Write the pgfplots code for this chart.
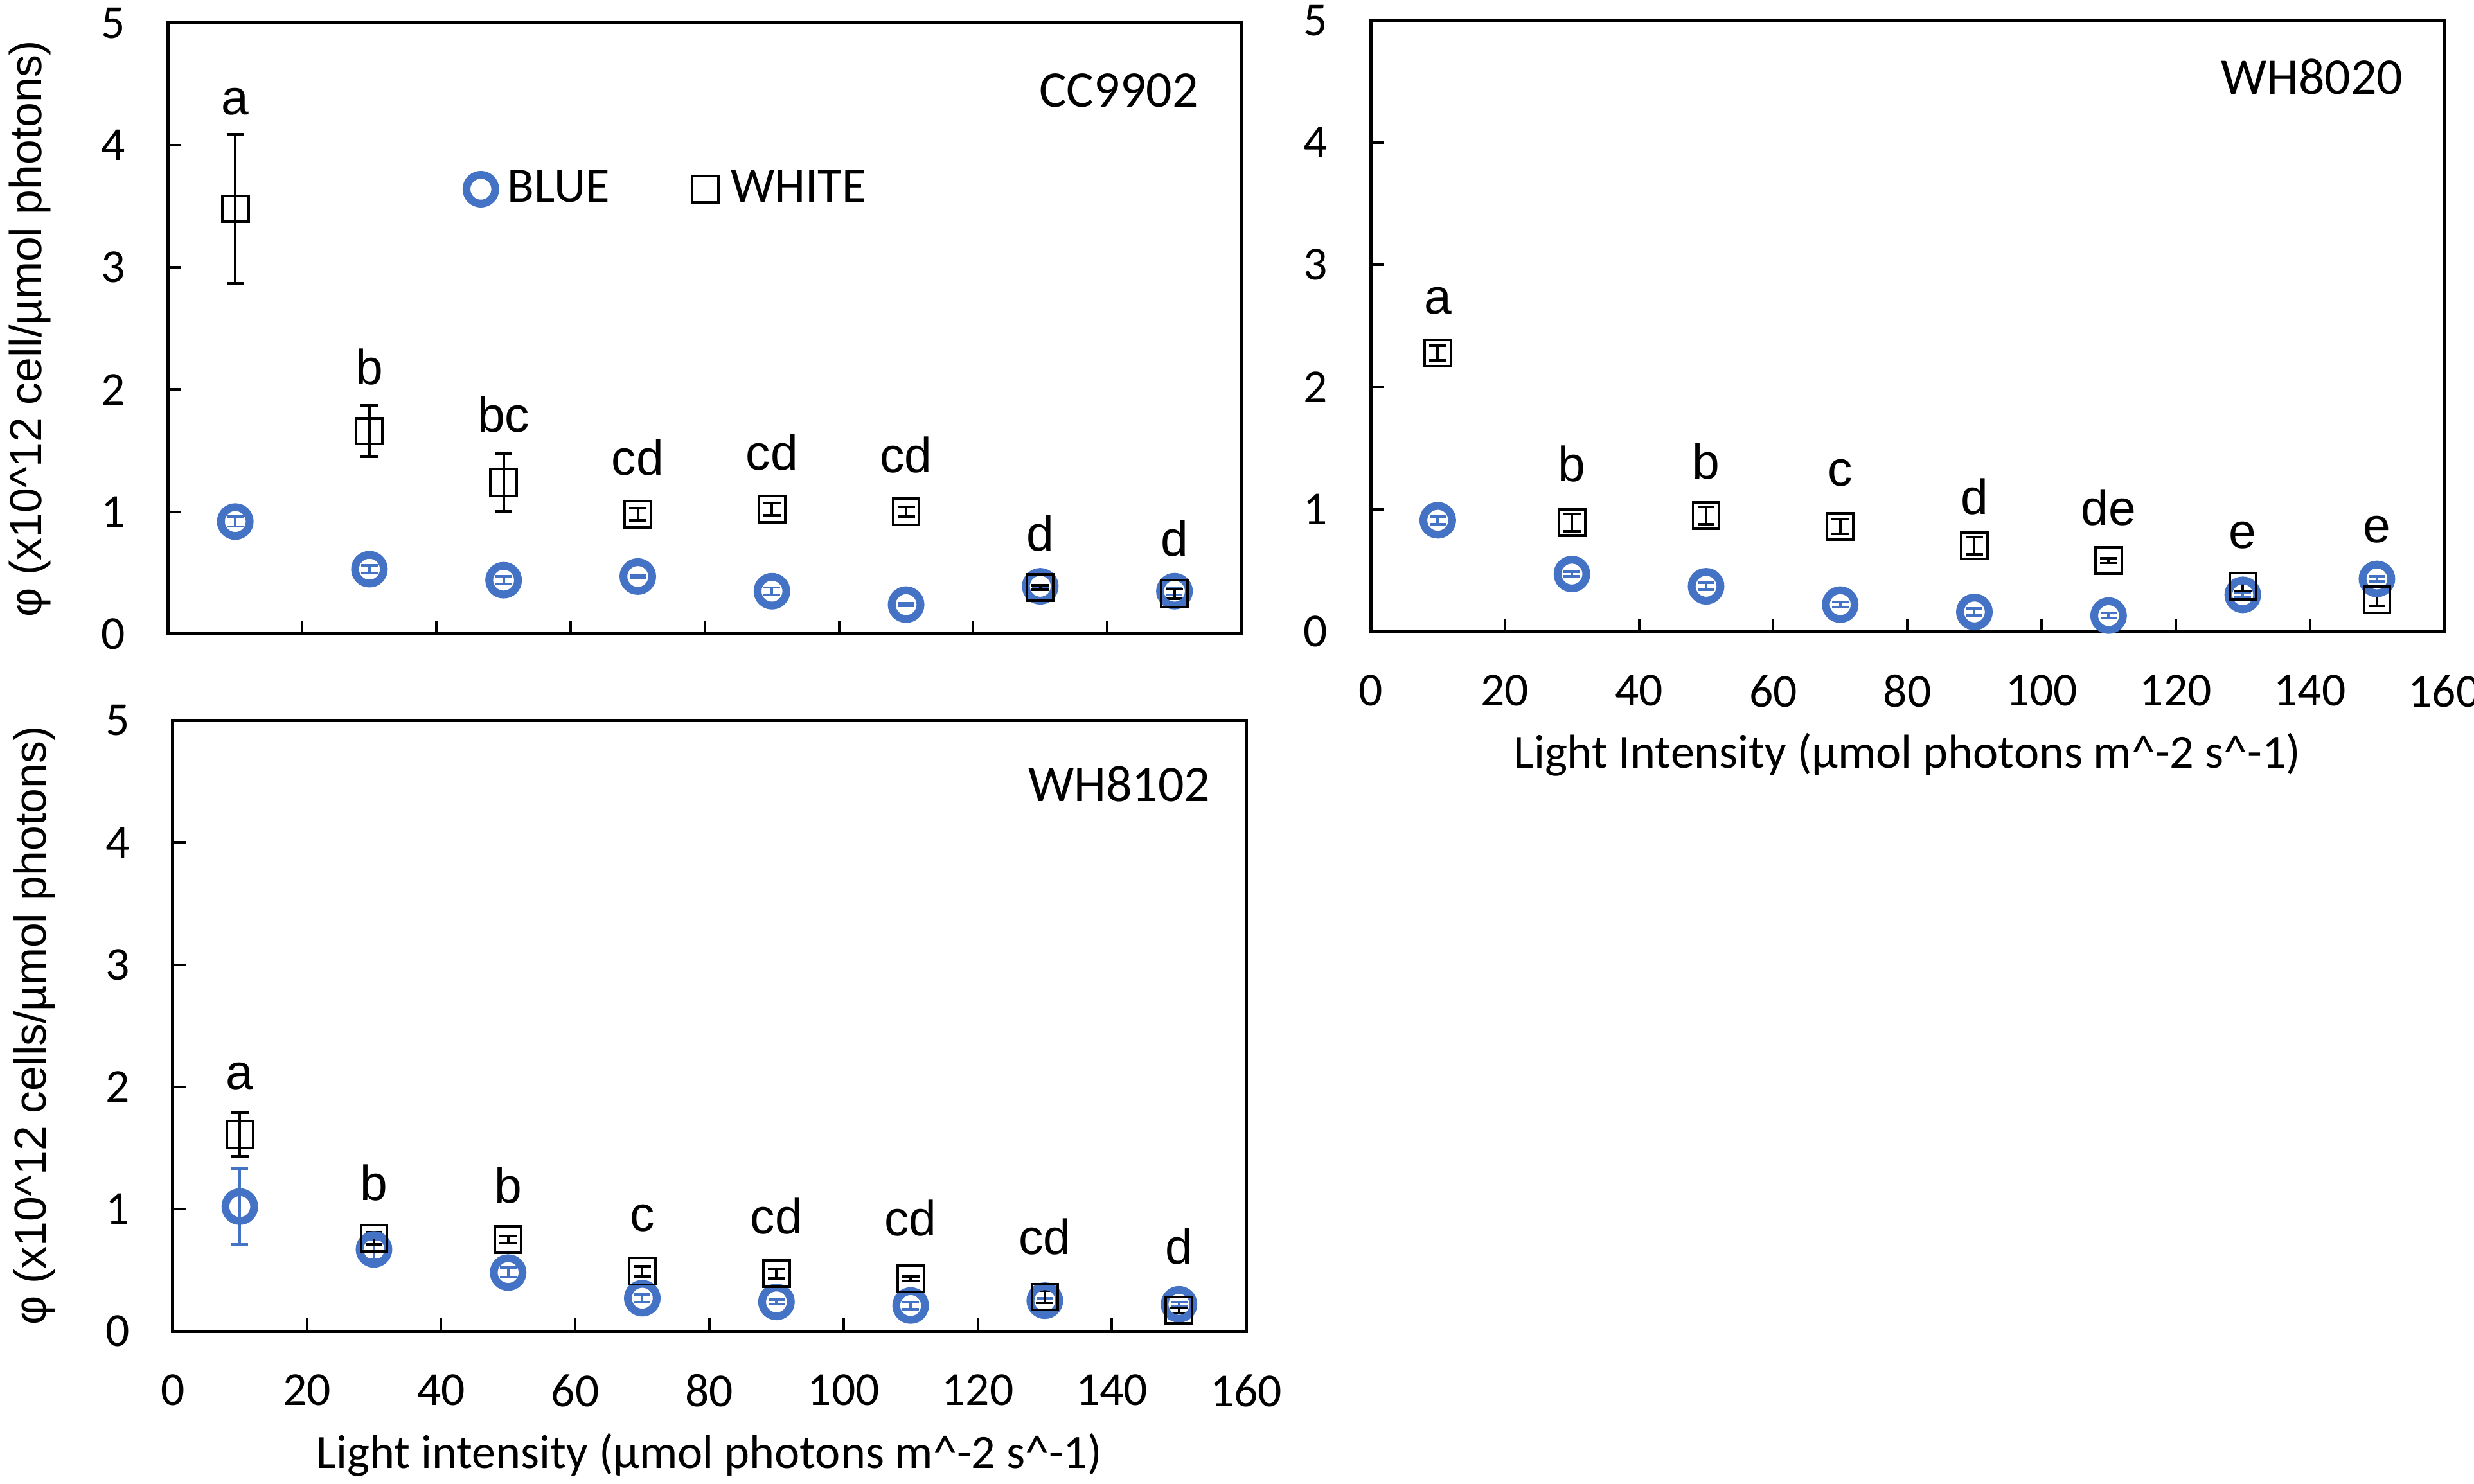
\documentclass[border=0pt]{standalone}
\usepackage{fontspec}
\setmainfont{Carlito}
\newfontfamily\arial{Liberation Sans}
\usepackage{pgfplots}
\pgfplotsset{compat=1.18}
\definecolor{myblue}{HTML}{4472C4}
\newcommand\lf{\arial\fontsize{12}{14}\selectfont}
\newcommand\tf{\fontsize{11.5}{13}\selectfont}
\pgfplotsset{
  panel/.style={
    width=261pt, height=148.6pt, scale only axis,
    xmin=0, xmax=160, ymin=0, ymax=5,
    xtick={0,20,...,160}, ytick={0,1,...,5},
    tick pos=left, tick align=inside,
    major tick length=3.1pt,
    axis line style={line width=0.8pt},
    every tick/.style={black, line width=0.6pt},
    /pgf/number format/assume math mode=true,
    ticklabel style={font=\tf},
    yticklabel style={xshift=-7pt},
    xticklabel style={yshift=-7pt},
    xlabel style={at={(axis description cs:0.5,-0.202)}, anchor=center, font=\fontsize{11.6}{14}\selectfont},
    ylabel style={at={(axis description cs:-0.129,0.5)}, anchor=center, font=\arial\fontsize{10.9}{13}\selectfont},
  },
  blues/.style={only marks, mark=o, mark size=3.5pt, color=myblue,
    mark options={line width=1.9pt, draw=myblue},
    error bars/.cd, y dir=both, y explicit,
    error bar style={myblue, line width=0.6pt},
    error mark options={rotate=90, mark size=2pt, line width=0.6pt, myblue}},
  whites/.style={only marks, mark=square, mark size=3.2pt, color=black,
    mark options={line width=0.6pt, draw=black},
    error bars/.cd, y dir=both, y explicit,
    error bar style={black, line width=0.6pt},
    error mark options={rotate=90, mark size=2.1pt, line width=0.6pt, black}},
}
\begin{document}
\begin{tikzpicture}
\useasboundingbox (0,0) rectangle (601.6pt,360.9pt);
% ---------------- CC9902
\begin{axis}[panel, at={(40.9pt,206.7pt)}, anchor=south west,
  xticklabels={},
  ylabel={φ (x10\textasciicircum12 cell/µmol photons)},
  legend columns=2,
  legend style={draw=none, fill=none, at={(axis cs:42.5,3.64)}, anchor=west,
    font=\fontsize{12}{14}\selectfont, /tikz/every even column/.style={column sep=17pt},
    nodes={inner xsep=3pt}},
  legend cell align=left]
\addplot[blues] table[x=x,y=y,y error=e] {
x y e
10 0.92 0.04
30 0.53 0.03
50 0.44 0.03
70 0.47 0.01
90 0.35 0.03
110 0.24 0.01
130 0.39 0.01
150 0.35 0.03
};
\addlegendentry{BLUE}
\addplot[whites] table[x=x,y=y,y error=e] {
x y e
10 3.48 0.61
30 1.66 0.21
50 1.24 0.235
70 0.98 0.05
90 1.02 0.05
110 1.00 0.04
130 0.38 0.02
150 0.33 0.04
};
\addlegendentry{WHITE}
\node[font=\fontsize{12.5}{14}\selectfont] at (axis cs:141.7,4.45) {CC9902};
\node[font=\lf, anchor=base] at (axis cs:10,4.25) {a};
\node[font=\lf, anchor=base] at (axis cs:30,2.04) {b};
\node[font=\lf, anchor=base] at (axis cs:50,1.65) {bc};
\node[font=\lf, anchor=base] at (axis cs:70,1.30) {cd};
\node[font=\lf, anchor=base] at (axis cs:90,1.34) {cd};
\node[font=\lf, anchor=base] at (axis cs:110,1.32) {cd};
\node[font=\lf, anchor=base] at (axis cs:130,0.68) {d};
\node[font=\lf, anchor=base] at (axis cs:150,0.64) {d};
\end{axis}
% ---------------- WH8020
\begin{axis}[panel, at={(333.3pt,207.3pt)}, anchor=south west,
  xlabel={Light Intensity (µmol photons m\textasciicircum-2 s\textasciicircum-1)}]
\addplot[blues] table[x=x,y=y,y error=e] {
x y e
10 0.91 0.03
30 0.47 0.02
50 0.37 0.03
70 0.22 0.02
90 0.16 0.03
110 0.13 0.02
130 0.30 0.02
150 0.43 0.02
};
\addplot[whites] table[x=x,y=y,y error=e] {
x y e
10 2.28 0.06
30 0.89 0.07
50 0.95 0.07
70 0.86 0.06
90 0.70 0.07
110 0.58 0.02
130 0.37 0.04
150 0.26 0.05
};
\node[font=\fontsize{12.5}{14}\selectfont] at (axis cs:140.3,4.54) {WH8020};
\node[font=\lf, anchor=base] at (axis cs:10,2.60) {a};
\node[font=\lf, anchor=base] at (axis cs:30,1.23) {b};
\node[font=\lf, anchor=base] at (axis cs:50,1.25) {b};
\node[font=\lf, anchor=base] at (axis cs:70,1.19) {c};
\node[font=\lf, anchor=base] at (axis cs:90,0.96) {d};
\node[font=\lf, anchor=base] at (axis cs:110,0.87) {de};
\node[font=\lf, anchor=base] at (axis cs:130,0.68) {e};
\node[font=\lf, anchor=base] at (axis cs:150,0.73) {e};
\end{axis}
% ---------------- WH8102
\begin{axis}[panel, at={(42.0pt,37.1pt)}, anchor=south west,
  xlabel={Light intensity (µmol photons m\textasciicircum-2 s\textasciicircum-1)},
  ylabel={φ (x10\textasciicircum12 cells/µmol photons)}]
\addplot[blues] table[x=x,y=y,y error=e] {
x y e
10 1.02 0.31
30 0.67 0.08
50 0.48 0.04
70 0.27 0.03
90 0.24 0.02
110 0.21 0.03
130 0.25 0.02
150 0.22 0.02
};
\addplot[whites] table[x=x,y=y,y error=e] {
x y e
10 1.61 0.18
30 0.76 0.05
50 0.75 0.03
70 0.49 0.04
90 0.47 0.04
110 0.43 0.02
130 0.28 0.05
150 0.17 0.02
};
\node[font=\fontsize{12.5}{14}\selectfont] at (axis cs:141.1,4.48) {WH8102};
\node[font=\lf, anchor=base] at (axis cs:10,1.98) {a};
\node[font=\lf, anchor=base] at (axis cs:30,1.07) {b};
\node[font=\lf, anchor=base] at (axis cs:50,1.05) {b};
\node[font=\lf, anchor=base] at (axis cs:70,0.82) {c};
\node[font=\lf, anchor=base] at (axis cs:90,0.80) {cd};
\node[font=\lf, anchor=base] at (axis cs:110,0.78) {cd};
\node[font=\lf, anchor=base] at (axis cs:130,0.63) {cd};
\node[font=\lf, anchor=base] at (axis cs:150,0.55) {d};
\end{axis}
\end{tikzpicture}
\end{document}
